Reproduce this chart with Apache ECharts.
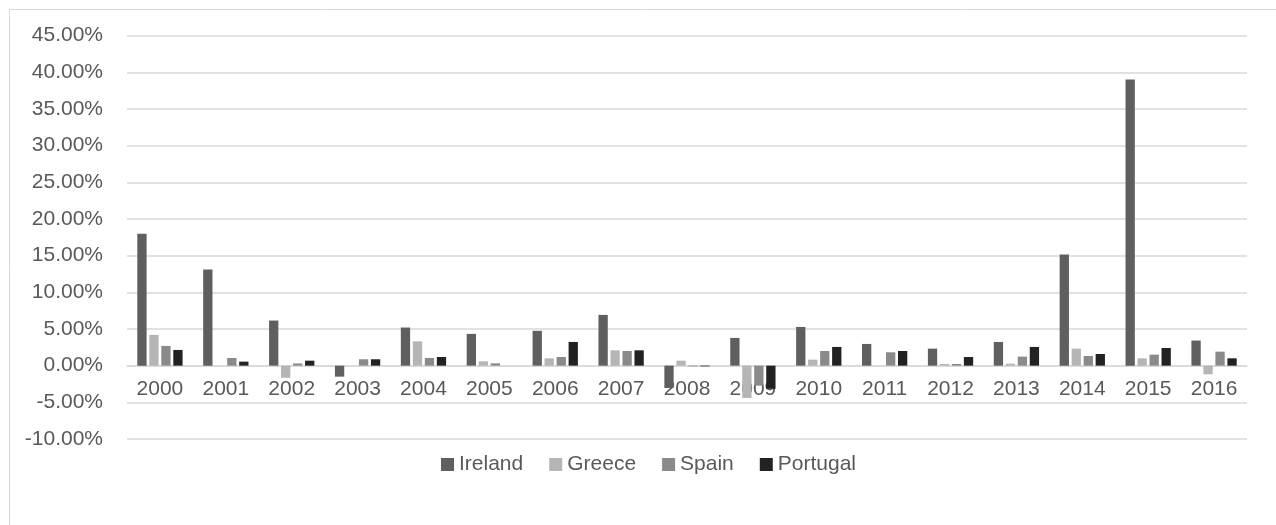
<!DOCTYPE html>
<html>
<head>
<meta charset="utf-8">
<script src="https://cdn.jsdelivr.net/npm/echarts@6/dist/echarts.min.js"></script>
<style>
html,body{margin:0;padding:0;background:#fff;}
#chart{width:1276px;height:525px;}
</style>
</head>
<body>
<div id="chart"></div>
<script>
var categories = ['2000','2001','2002','2003','2004','2005','2006','2007','2008','2009','2010','2011','2012','2013','2014','2015','2016'];
var ireland  = [18.0, 13.1, 6.15, -1.5, 5.2, 4.33, 4.75, 6.92, -3.05, 3.78, 5.28, 2.96, 2.32, 3.23, 15.16, 39.0, 3.42];
var greece   = [4.2, 0, -1.65, 0, 3.32, 0.59, 1.0, 2.09, 0.68, -4.4, 0.82, 0, 0.23, 0.27, 2.32, 1.0, -1.18];
var spain    = [2.69, 1.05, 0.3, 0.87, 1.05, 0.32, 1.18, 2.0, -0.1, -2.73, 2.0, 1.82, 0.23, 1.23, 1.32, 1.5, 1.91];
var portugal = [2.14, 0.55, 0.68, 0.87, 1.18, 0, 3.23, 2.09, -0.1, -3.15, 2.55, 2.0, 1.18, 2.55, 1.59, 2.41, 1.0];
var seriesNames = ['Ireland','Greece','Spain','Portugal'];
var seriesColors = ['#5f5f5f','#b5b5b5','#8a8a8a','#222222'];
var yTicks = { min: -10, max: 45, interval: 5 };

var font = 'Liberation Sans';
var gridTop = 35.6, gridBottom = 86, H = 525;
var plotBottomY = H - gridBottom;
var zeroY = gridTop + (yTicks.max - 0) / (yTicks.max - yTicks.min) * (plotBottomY - gridTop);
var chart = echarts.init(document.getElementById('chart'), null, {renderer:'canvas'});
var dataSets = [ireland, greece, spain, portugal];
var series = seriesNames.map(function(n, i){
  return {
    name: n, type: 'bar', data: dataSets[i], z: 10,
    barWidth: 9.3, barGap: '29%', barCategoryGap: '31%',
    itemStyle: { color: seriesColors[i] }
  };
});
chart.setOption({
  animation: false,
  backgroundColor: '#fff',
  graphic: [{
    type: 'rect', left: 7, top: 7, silent: true, z: -10,
    shape: { x: 0, y: 0, width: 1268, height: 530 },
    style: { fill: 'none', stroke: '#d9d9d9', lineWidth: 1 }
  }],
  grid: { left: 127, right: 29, top: gridTop, bottom: gridBottom, containLabel: false },
  legend: {
    data: seriesNames, left: 436, top: 449,
    itemWidth: 13, itemHeight: 13, itemGap: 26,
    icon: 'rect',
    textStyle: { color: '#595959', fontSize: 21, fontFamily: font }
  },
  xAxis: {
    type: 'category', data: categories, z: 0,
    offset: -(plotBottomY - zeroY),
    axisLine: { onZero: false, lineStyle: { color: '#d9d9d9', width: 1.5 } },
    axisTick: { show: false },
    axisLabel: { color: '#595959', fontSize: 21, fontFamily: font, margin: 13, interval: 0 },
    splitLine: { show: false }
  },
  yAxis: {
    type: 'value', min: yTicks.min, max: yTicks.max, interval: yTicks.interval, z: 0,
    axisLine: { show: false }, axisTick: { show: false },
    axisLabel: { color: '#595959', fontSize: 21, fontFamily: font, margin: 24,
      formatter: function(v){ return v.toFixed(2) + '%'; } },
    splitLine: { lineStyle: { color: '#d9d9d9', width: 1.5 } }
  },
  series: series
});
</script>
</body>
</html>
